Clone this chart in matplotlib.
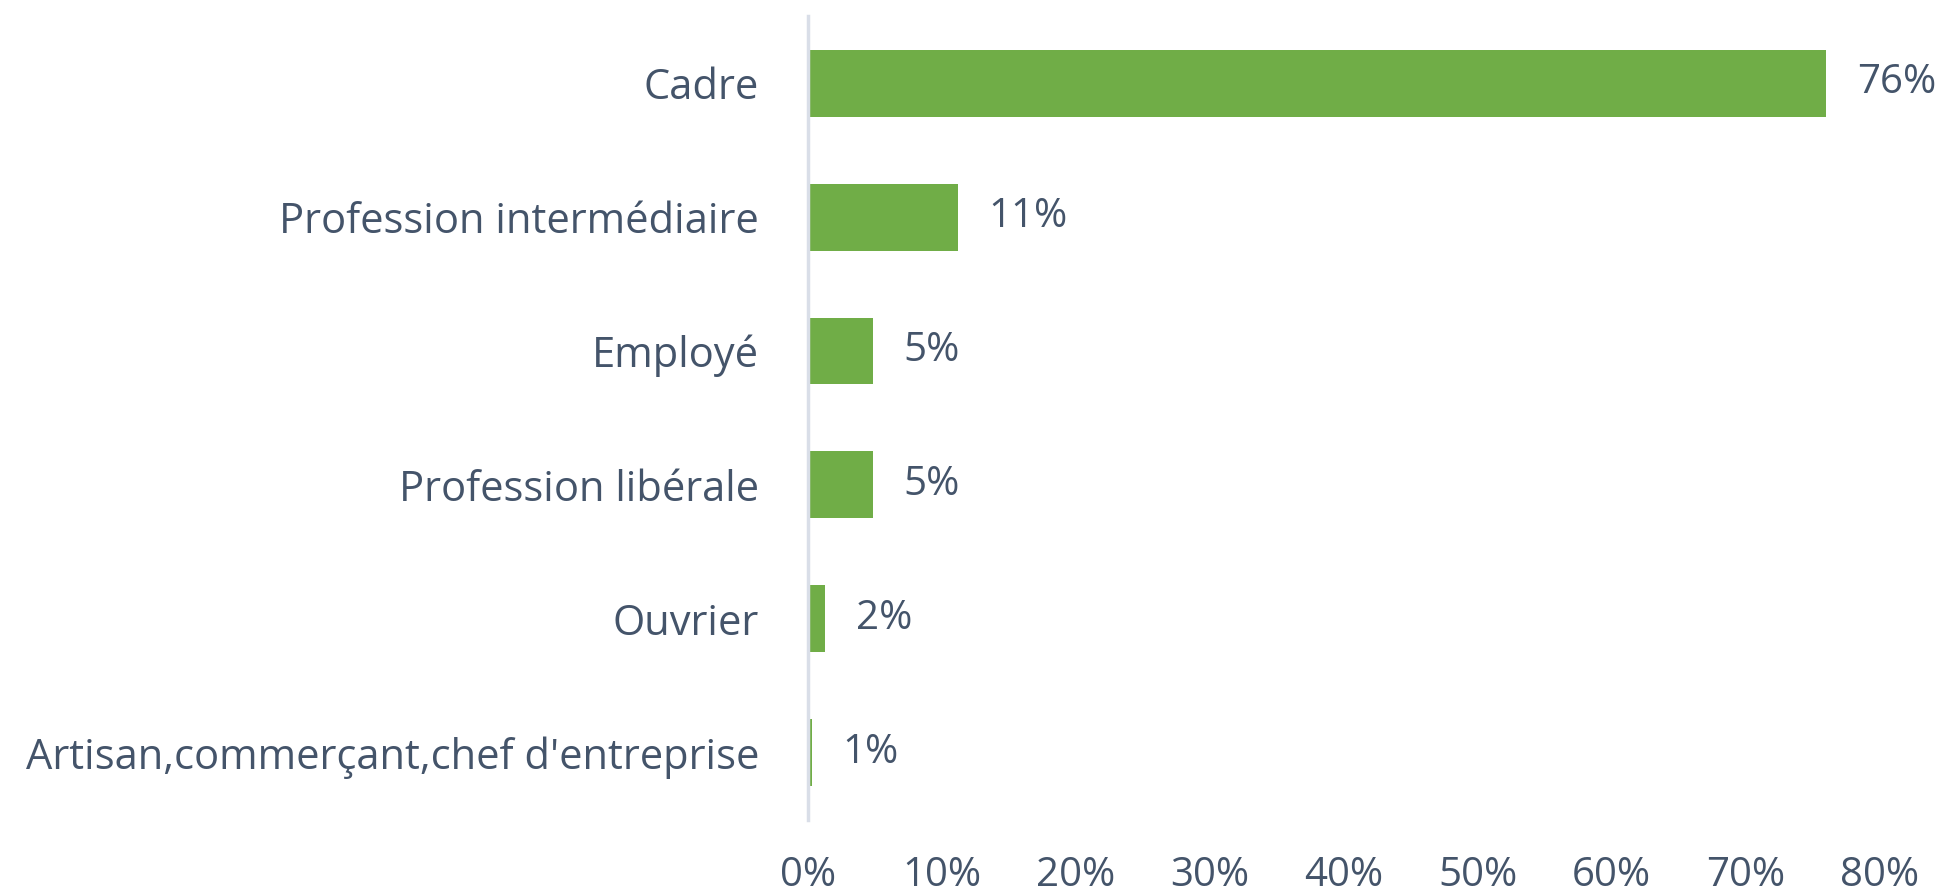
import matplotlib.pyplot as plt

# Catégories socio-professionnelles (du haut vers le bas)
categories = ["Cadre", "Profession intermédiaire", "Employé", "Profession libérale",
              "Ouvrier", "Artisan,commerçant,chef d'entreprise"]
values = [0.76, 0.112, 0.049, 0.049, 0.013, 0.003]
value_labels = ["76%", "11%", "5%", "5%", "2%", "1%"]
xticks = [0, 0.1, 0.2, 0.3, 0.4, 0.5, 0.6, 0.7, 0.8]
xtick_labels = ["0%", "10%", "20%", "30%", "40%", "50%", "60%", "70%", "80%"]

text_color = "#44546A"
bar_color = "#70AD47"

plt.rcParams["font.family"] = ["Open Sans", "DejaVu Sans"]

fig = plt.figure(figsize=(19.46, 8.96), dpi=100)
ax = fig.add_axes([0.415, 0.085, 0.551, 0.897])

y = list(range(len(categories)))
ax.barh(y, values, height=0.5, color=bar_color)

# étiquettes de valeur à droite des barres
for yi, v, lab in zip(y, values, value_labels):
    ax.annotate(lab, (v, yi), xytext=(22, 0), textcoords="offset points",
                va="center", ha="left", fontsize=29, color=text_color)

ax.set_yticks(y)
ax.set_yticklabels(categories, fontsize=30, color=text_color)
ax.set_ylim(len(categories) - 0.5, -0.5)
ax.set_xlim(0, 0.8)
ax.set_xticks(xticks)
ax.set_xticklabels(xtick_labels, fontsize=29, color=text_color)

ax.tick_params(axis="y", length=0, pad=35)
ax.tick_params(axis="x", length=0, pad=26)

for side in ["top", "right", "bottom"]:
    ax.spines[side].set_visible(False)
ax.spines["left"].set_color("#D9DEE8")
ax.spines["left"].set_linewidth(2.5)

fig.savefig("out.png", dpi=100)
